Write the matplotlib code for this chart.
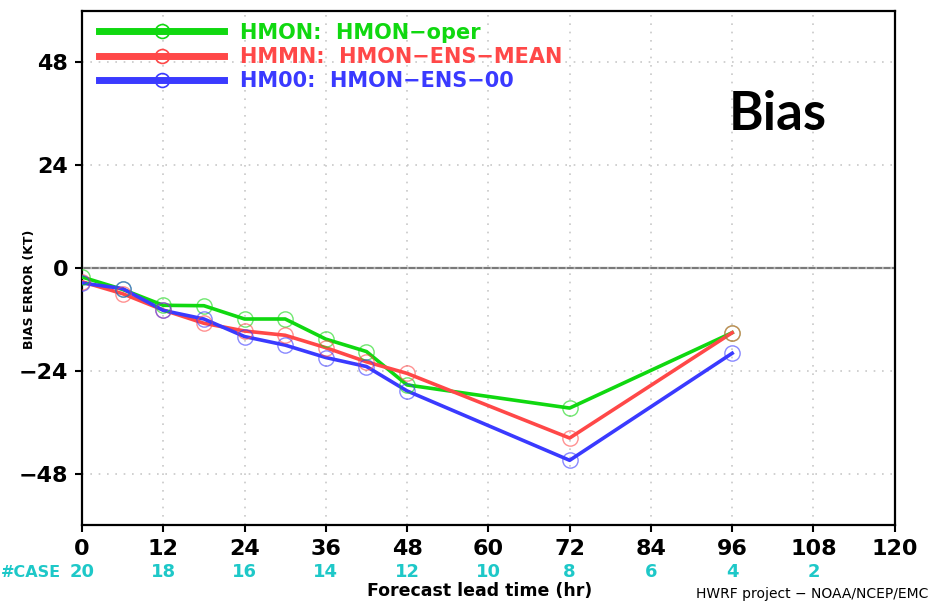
import matplotlib
matplotlib.use("Agg")
import matplotlib.pyplot as plt
from matplotlib.lines import Line2D
from matplotlib.transforms import blended_transform_factory

# lead times (hr) and bias error (kt) for each model
lead_hr = [0, 6, 12, 18, 24, 30, 36, 42, 48, 72, 96]
hmon_oper = [-2.1, -5.0, -8.7, -8.8, -11.9, -11.9, -16.6, -19.5, -27.3, -32.7, -15.1]
hmon_ens_mean = [-3.2, -6.0, -9.8, -12.9, -14.7, -15.7, -18.6, -21.9, -24.6, -39.7, -15.1]
hmon_ens_00 = [-3.5, -4.8, -9.9, -11.9, -16.0, -18.0, -20.9, -23.0, -28.7, -44.9, -19.9]

labels = ["HMON:  HMON\u2212oper", "HMMN:  HMON\u2212ENS\u2212MEAN", "HM00:  HMON\u2212ENS\u221200"]
colors = ["#10d810", "#ff4848", "#3a3aff"]

case_hr = [0, 12, 24, 36, 48, 60, 72, 84, 96, 108]
case_n = [20, 18, 16, 14, 12, 10, 8, 6, 4, 2]

xticks = list(range(0, 121, 12))
yticks = [-48, -24, 0, 24, 48]

fig = plt.figure(figsize=(9.32, 6.06), dpi=100)
ax = fig.add_axes([0.088, 0.1337, 0.872, 0.848])

ax.set_xlim(0, 120)
ax.set_ylim(-60, 60)

# dotted grid, solid zero line
ax.set_xticks(xticks)
ax.set_yticks(yticks)
ax.grid(True, color="#c8c8c8", linestyle=(0, (1, 4)), linewidth=1.2)
ax.axhline(0, color="#7a7a7a", linewidth=1.6, zorder=1)

for vals, c in zip([hmon_oper, hmon_ens_mean, hmon_ens_00], colors):
    ax.plot(lead_hr, vals, color=c, linewidth=2.6, zorder=3)
    ax.plot(lead_hr, vals, linestyle="none", marker="o", markersize=11,
            markerfacecolor="none", markeredgecolor=c, markeredgewidth=1.0,
            alpha=0.6, zorder=4)

for sp in ax.spines.values():
    sp.set_linewidth(1.6)

ax.tick_params(axis="both", direction="out", length=5, width=1.5, pad=5)
ax.set_xticklabels([str(t) for t in xticks], fontweight="bold", fontsize=16)
ax.set_yticklabels([str(t).replace("-", "\u2212") for t in yticks],
                   fontweight="bold", fontsize=16)

fig.text(0.032, 0.522, "BIAS ERROR (KT)", rotation=90, ha="center", va="center",
         fontsize=9, fontweight="bold")

# legend with long thick handles
handles = [Line2D([0], [0], color=c, linewidth=5, marker="o", markersize=10,
                  markerfacecolor="none", markeredgecolor=c, markeredgewidth=1.2)
           for c in colors]
leg = ax.legend(handles, labels, loc="upper left", bbox_to_anchor=(-0.002, 1.014),
                frameon=False, handlelength=6.0, handletextpad=0.75,
                labelspacing=0.2, numpoints=1, labelcolor=colors,
                prop={"weight": "bold", "size": 15})

ax.text(0.856, 0.7685, "Bias", transform=ax.transAxes, ha="center", va="baseline",
        fontsize=38, fontweight="bold", fontfamily="Lato")

# number of cases under each lead time
trans = blended_transform_factory(ax.transData, fig.transFigure)
for h, n in zip(case_hr, case_n):
    ax.text(h, 0.056, str(n), transform=trans, ha="center", va="center",
            color="#1ec8c8", fontsize=13, fontweight="bold", clip_on=False)
fig.text(0.001, 0.056, "#CASE", ha="left", va="center", color="#1ec8c8",
         fontsize=11.5, fontweight="bold")

fig.text(0.515, 0.025, "Forecast lead time (hr)", ha="center", va="center",
         fontsize=12.5, fontweight="bold")
fig.text(0.996, 0.019, "HWRF project \u2212 NOAA/NCEP/EMC", ha="right",
         va="center", fontsize=10)

fig.savefig("out.png", dpi=100)
